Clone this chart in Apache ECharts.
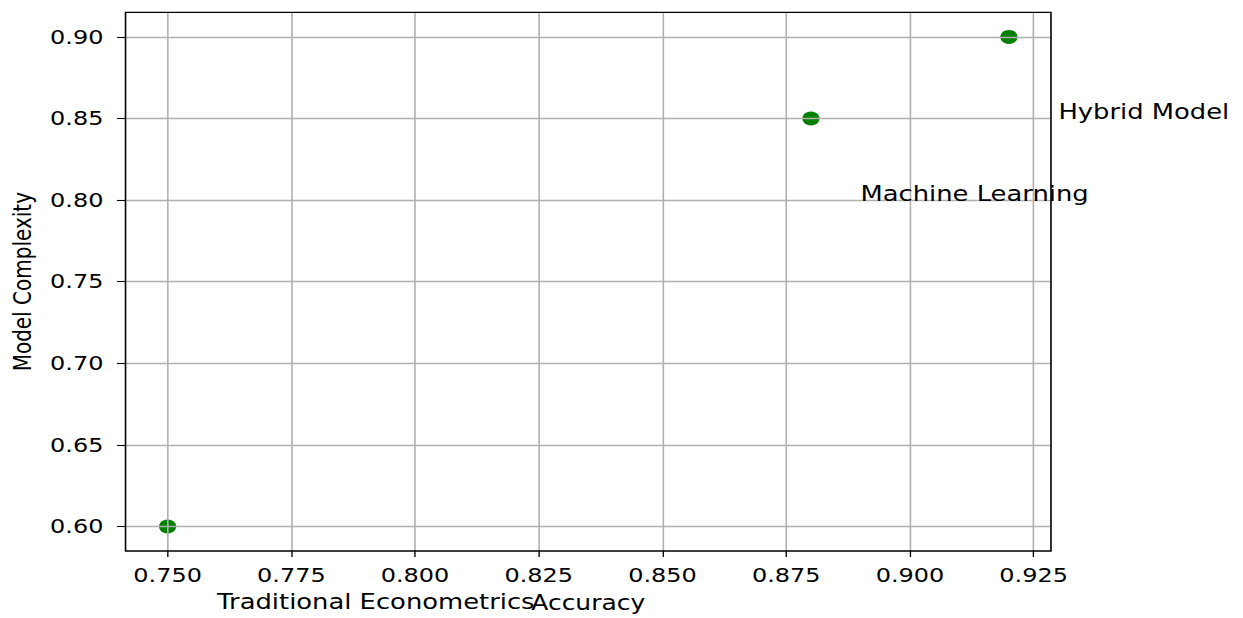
<!DOCTYPE html>
<html>
<head>
<meta charset="utf-8">
<script src="https://cdn.jsdelivr.net/npm/echarts@6/dist/echarts.min.js"></script>
<style>
html, body { margin: 0; padding: 0; background: #fff; overflow: hidden; width: 1243px; height: 618px; }
#chart { width: 1011px; height: 618px; transform: scaleX(1.2295); transform-origin: 0 0; }
</style>
</head>
<body>
<div id="chart"></div>
<script>
// Data points
const accuracy = [0.75, 0.88, 0.92];
const complexity = [0.60, 0.85, 0.90];
// Annotation texts and their anchor positions (data coords)
const annotNames = ['Traditional Econometrics', 'Machine Learning', 'Hybrid Model'];
const annotX = [0.76, 0.89, 0.93];
const annotY = [0.55, 0.80, 0.85];
// Tick labels
const xTicks = [0.750, 0.775, 0.800, 0.825, 0.850, 0.875, 0.900, 0.925];
const yTicks = [0.60, 0.65, 0.70, 0.75, 0.80, 0.85, 0.90];
const xRange = [0.7415, 0.9285];
const yRange = [0.585, 0.915];

const FONT = 'DejaVu Sans';
const FS = 19.5;

const chart = echarts.init(document.getElementById('chart'), null, { renderer: 'svg' });

const gridLine = { show: true, lineStyle: { color: '#b0b0b0', width: 1.3 } };

chart.setOption({
  animation: false,
  backgroundColor: '#fff',
  grid: {
    left: 102.1, right: 156.2, top: 12.4, bottom: 65.5,
    show: true, borderColor: '#000', borderWidth: 1.3, backgroundColor: 'transparent', z: 4
  },
  xAxis: {
    type: 'value', min: xRange[0], max: xRange[1], z: 3,
    name: 'Accuracy', nameLocation: 'middle', nameGap: 42,
    nameTextStyle: { fontFamily: FONT, fontSize: 20.3, color: '#000' },
    axisLine: { show: false },
    axisTick: { show: true, inside: false, length: 6, customValues: xTicks, lineStyle: { color: '#000', width: 1.1 } },
    axisLabel: { show: true, margin: 14, customValues: xTicks, fontFamily: FONT, fontSize: FS, color: '#000',
      formatter: v => Number(v).toFixed(3) },
    splitLine: gridLine
  },
  yAxis: {
    type: 'value', min: yRange[0], max: yRange[1], z: 3,
    name: 'Model Complexity', nameLocation: 'middle', nameGap: 74, nameRotate: 90,
    nameTextStyle: { fontFamily: FONT, fontSize: 20, color: '#000' },
    axisLine: { show: false },
    axisTick: { show: true, inside: false, length: 7, customValues: yTicks, lineStyle: { color: '#000', width: 1.1 } },
    axisLabel: { show: true, margin: 18, customValues: yTicks, fontFamily: FONT, fontSize: FS, color: '#000',
      formatter: v => Number(v).toFixed(2) },
    splitLine: gridLine
  },
  series: [
    {
      type: 'scatter', z: 2,
      symbol: 'circle', symbolSize: 14,
      itemStyle: { color: '#008000', opacity: 1 },
      data: accuracy.map((x, i) => [x, complexity[i]])
    },
    {
      type: 'scatter', z: 5, clip: false, silent: true,
      symbol: 'circle', symbolSize: 0,
      itemStyle: { color: '#000', opacity: 1 },
      label: {
        show: true, position: 'right', distance: 0,
        align: 'left', verticalAlign: 'bottom', lineHeight: 13, opacity: 1,
        fontFamily: FONT, fontSize: 21, color: '#000',
        formatter: p => p.name
      },
      emphasis: { disabled: true },
      labelLayout: { hideOverlap: false },
      data: annotNames.map((n, i) => ({ name: n, value: [annotX[i], annotY[i]] }))
    }
  ]
});
</script>
</body>
</html>
